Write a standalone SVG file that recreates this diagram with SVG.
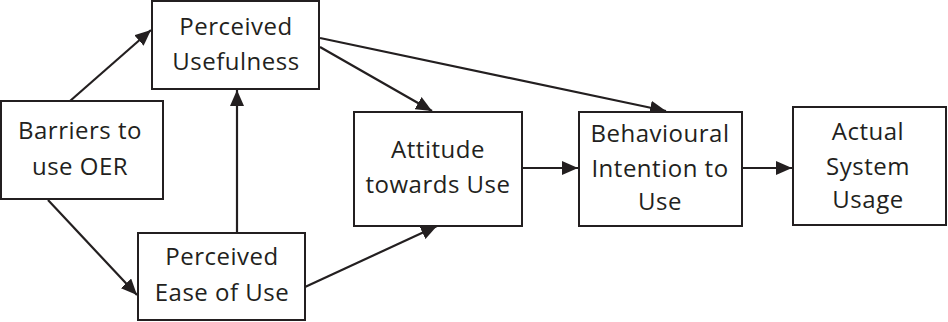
<svg xmlns="http://www.w3.org/2000/svg" width="948" height="322" viewBox="0 0 948 322">
<style>
.box{fill:#fff;stroke:#231f20;stroke-width:2}
.t{font-family:"Open Sans","Liberation Sans",sans-serif;font-size:24px;letter-spacing:0.5px;fill:#231f20;text-anchor:middle}
.c line{stroke:#231f20;stroke-width:2.2;marker-end:url(#ah)}
</style>
<defs>
<marker id="ah" viewBox="0 0 16 14" refX="16" refY="7" markerWidth="16" markerHeight="14" markerUnits="userSpaceOnUse" orient="auto">
<path d="M0,0 L16,7 L0,14 z" fill="#231f20"/>
</marker>
</defs>
<rect width="948" height="322" fill="#fff"/>
<g class="c" id="connectors">
<line x1="70" y1="101" x2="151" y2="30"/>
<line x1="48" y1="200" x2="137" y2="295"/>
<line x1="237" y1="233" x2="237" y2="90"/>
<line x1="320" y1="47" x2="432" y2="111"/>
<line x1="320" y1="38" x2="666" y2="111"/>
<line x1="305" y1="287" x2="437" y2="226"/>
<line x1="522" y1="168" x2="578" y2="168"/>
<line x1="742" y1="168" x2="792" y2="168"/>
</g>
<g id="pu">
<rect class="box" x="152" y="1" width="167" height="88"/>
<text class="t" x="236" y="35">Perceived</text>
<text class="t" x="236" y="70">Usefulness</text>
</g>
<g id="barriers">
<rect class="box" x="1" y="101" width="162" height="98"/>
<text class="t" x="80" y="139">Barriers to</text>
<text class="t" x="80" y="175">use OER</text>
</g>
<g id="peou">
<rect class="box" x="138" y="233" width="167" height="87"/>
<text class="t" x="222" y="265">Perceived</text>
<text class="t" x="222" y="301">Ease of Use</text>
</g>
<g id="attitude">
<rect class="box" x="354" y="112" width="168" height="114"/>
<text class="t" x="438" y="158">Attitude</text>
<text class="t" x="438" y="193">towards Use</text>
</g>
<g id="bi">
<rect class="box" x="579" y="112" width="163" height="114"/>
<text class="t" x="660" y="142">Behavioural</text>
<text class="t" x="660" y="177">Intention to</text>
<text class="t" x="660" y="210">Use</text>
</g>
<g id="actual">
<rect class="box" x="793" y="107" width="153" height="118"/>
<text class="t" x="868" y="140">Actual</text>
<text class="t" x="868" y="175">System</text>
<text class="t" x="868" y="208">Usage</text>
</g>
</svg>
